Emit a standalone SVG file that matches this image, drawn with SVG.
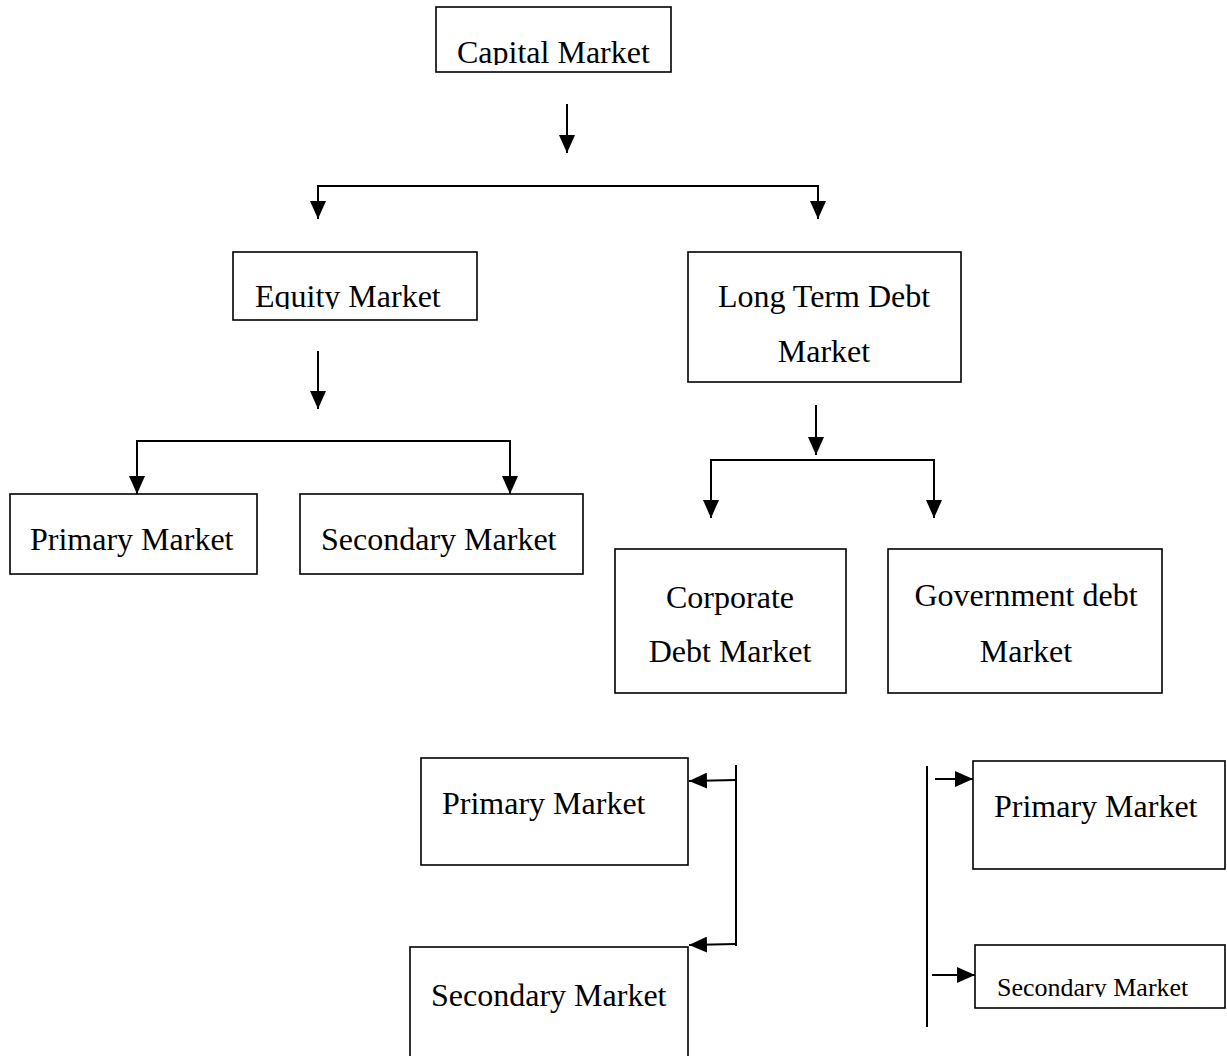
<svg xmlns="http://www.w3.org/2000/svg" width="1227" height="1056" viewBox="0 0 1227 1056">
<style>
.box{fill:#fff;stroke:#000;stroke-width:1.6}
.t{font-family:"Liberation Serif","Times New Roman",serif;font-size:32px;fill:#000}
.ts{font-family:"Liberation Serif","Times New Roman",serif;font-size:26px;fill:#000}
.c{fill:none;stroke:#000;stroke-width:2}
</style>
<defs>
<marker id="ah" markerUnits="userSpaceOnUse" markerWidth="18" markerHeight="16" refX="18" refY="8" orient="auto-start-reverse" viewBox="0 0 18 16">
<path d="M0,0 L18,8 L0,16 z" fill="#000"/>
</marker>
<clipPath id="clipCap"><rect x="436" y="7" width="235" height="58"/></clipPath>
<clipPath id="clipEq"><rect x="233" y="252" width="244" height="57"/></clipPath>
<clipPath id="clipBrs"><rect x="975" y="945" width="250" height="52"/></clipPath>
</defs>
<rect width="1227" height="1056" fill="#fff"/>
<g id="connectors">
<line class="c" x1="567" y1="104" x2="567" y2="153" marker-end="url(#ah)"/>
<path class="c" d="M318,219 V186 H818 V219" marker-start="url(#ah)" marker-end="url(#ah)"/>
<line class="c" x1="318" y1="351" x2="318" y2="409" marker-end="url(#ah)"/>
<path class="c" d="M137,494 V441 H510 V494" marker-start="url(#ah)" marker-end="url(#ah)"/>
<line class="c" x1="816" y1="405" x2="816" y2="455" marker-end="url(#ah)"/>
<path class="c" d="M711,518 V460 H934 V518" marker-start="url(#ah)" marker-end="url(#ah)"/>
<line class="c" x1="736" y1="765" x2="736" y2="946"/>
<line class="c" x1="736" y1="780" x2="689" y2="781" marker-end="url(#ah)"/>
<line class="c" x1="736" y1="944" x2="689" y2="945" marker-end="url(#ah)"/>
<line class="c" x1="927" y1="766" x2="927" y2="1027"/>
<line class="c" x1="935" y1="779" x2="973" y2="779" marker-end="url(#ah)"/>
<line class="c" x1="932" y1="975" x2="975" y2="975" marker-end="url(#ah)"/>
</g>
<g id="capital">
<rect class="box" x="436" y="7" width="235" height="65"/>
<text class="t" x="457" y="63" clip-path="url(#clipCap)">Capital Market</text>
</g>
<g id="equity">
<rect class="box" x="233" y="252" width="244" height="68"/>
<text class="t" x="255" y="307" clip-path="url(#clipEq)">Equity Market</text>
</g>
<g id="longterm">
<rect class="box" x="688" y="252" width="273" height="130"/>
<text class="t" x="824" y="307" text-anchor="middle">Long Term Debt</text>
<text class="t" x="824" y="362" text-anchor="middle">Market</text>
</g>
<g id="eq-primary">
<rect class="box" x="10" y="494" width="247" height="80"/>
<text class="t" x="30" y="550">Primary Market</text>
</g>
<g id="eq-secondary">
<rect class="box" x="300" y="494" width="283" height="80"/>
<text class="t" x="321" y="550">Secondary Market</text>
</g>
<g id="corporate">
<rect class="box" x="615" y="549" width="231" height="144"/>
<text class="t" x="730" y="608" text-anchor="middle">Corporate</text>
<text class="t" x="730" y="662" text-anchor="middle">Debt Market</text>
</g>
<g id="government">
<rect class="box" x="888" y="549" width="274" height="144"/>
<text class="t" x="1026" y="606" text-anchor="middle">Government debt</text>
<text class="t" x="1026" y="662" text-anchor="middle">Market</text>
</g>
<g id="corp-primary">
<rect class="box" x="421" y="758" width="267" height="107"/>
<text class="t" x="442" y="814">Primary Market</text>
</g>
<g id="corp-secondary">
<rect class="box" x="410" y="947" width="278" height="115"/>
<text class="t" x="431" y="1006">Secondary Market</text>
</g>
<g id="gov-primary">
<rect class="box" x="973" y="761" width="252" height="108"/>
<text class="t" x="994" y="817">Primary Market</text>
</g>
<g id="gov-secondary">
<rect class="box" x="975" y="945" width="250" height="63"/>
<text class="ts" x="997" y="996" clip-path="url(#clipBrs)">Secondary Market</text>
</g>
</svg>
